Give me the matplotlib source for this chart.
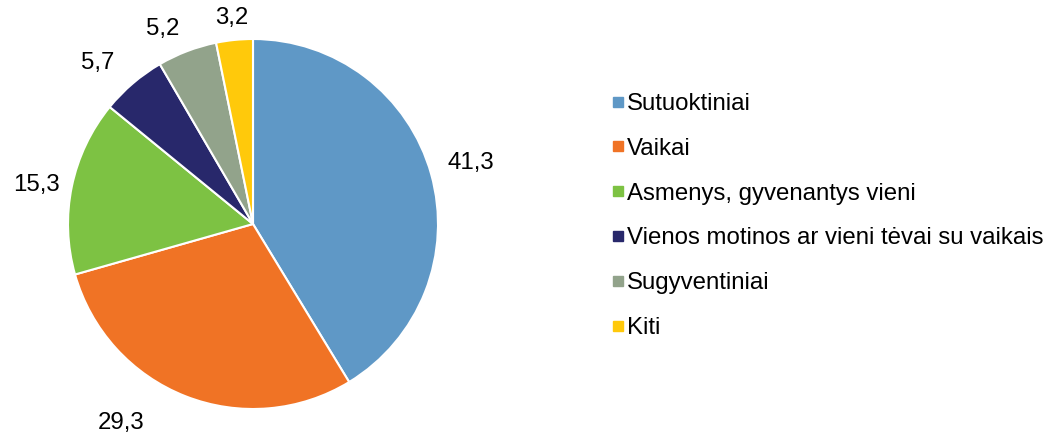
import numpy as np
import matplotlib
matplotlib.use("Agg")
import matplotlib.pyplot as plt
from matplotlib.lines import Line2D

plt.rcParams["font.family"] = ["Liberation Sans", "DejaVu Sans"]

categories = ["Sutuoktiniai", "Vaikai", "Asmenys, gyvenantys vieni",
              "Vienos motinos ar vieni tėvai su vaikais", "Sugyventiniai", "Kiti"]
values = [41.3, 29.3, 15.3, 5.7, 5.2, 3.2]
value_labels = ["41,3", "29,3", "15,3", "5,7", "5,2", "3,2"]
colors = ["#5F98C6", "#F07325", "#7DC243", "#28286B", "#92A38B", "#FFC90B"]

# label placement tweaks (angle shift in degrees, radius factor), like Excel best fit
label_shift = [0, -12, 1.6, 3.4, 3.9, 0]
label_rad = [1.22, 1.29, 1.19, 1.21, 1.16, 1.12]

fig = plt.figure(figsize=(10.48, 4.34), dpi=100)
cx, cy, r = 253 / 1048, 210 / 434, 185
ax = fig.add_axes([cx - r / 1048, cy - r / 434, 2 * r / 1048, 2 * r / 434])

wedges, _ = ax.pie(values, colors=colors, startangle=90, counterclock=False,
                   wedgeprops=dict(edgecolor="white", linewidth=1.5))
ax.set_xlim(-1, 1)
ax.set_ylim(-1, 1)
ax.set_aspect("equal")
ax.axis("off")

for w, lab, sh, rf in zip(wedges, value_labels, label_shift, label_rad):
    ang = np.deg2rad((w.theta1 + w.theta2) / 2 + sh)
    ax.text(rf * np.cos(ang), rf * np.sin(ang), lab, ha="center", va="center",
            fontsize=17.3, color="#000000")

handles = [Line2D([], [], marker="s", linestyle="none", markersize=7.5,
                  markerfacecolor=c, markeredgecolor=c) for c in colors]
fig.legend(handles, categories, loc="upper left", bbox_to_anchor=(611 / 1048, 1 - 93 / 434),
           frameon=False, fontsize=17.3, handlelength=0.6, handletextpad=0.05,
           labelspacing=0.95, borderpad=0, borderaxespad=0)

fig.savefig("out.png", dpi=100)
